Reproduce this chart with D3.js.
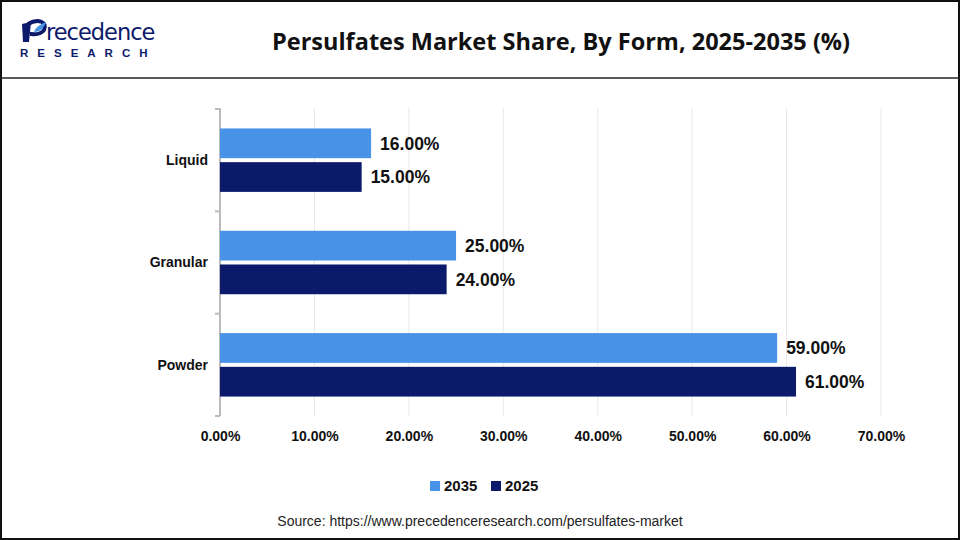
<!DOCTYPE html>
<html>
<head>
<meta charset="utf-8">
<script src="https://cdn.jsdelivr.net/npm/d3@7"></script>
<style>
  body { margin: 0; background: #fff; }
  svg { display: block; font-family: "Liberation Sans", Arial, sans-serif; }
</style>
</head>
<body>
<div id="container"></div>
<script>
var categories = ["Liquid", "Granular", "Powder"];
var seriesNames = ["2035", "2025"];
var values2035 = [16, 25, 59];
var values2025 = [15, 24, 61];
var tickValues = [0, 10, 20, 30, 40, 50, 60, 70];

var width = 960, height = 540;
var colors = { "2035": "#4893e8", "2025": "#0b1a6a" };

var svg = d3.select("#container").append("svg")
    .attr("width", width)
    .attr("height", height);

// frame
svg.append("rect")
    .attr("x", 1).attr("y", 1)
    .attr("width", width - 2).attr("height", height - 2)
    .attr("fill", "#fff")
    .attr("stroke", "#111").attr("stroke-width", 2);

svg.append("line")
    .attr("x1", 0).attr("x2", width)
    .attr("y1", 78).attr("y2", 78)
    .attr("stroke", "#222").attr("stroke-width", 1.5);

// logo
var logo = svg.append("g").attr("transform", "translate(18,0)");
logo.append("path")
    .attr("d", "M4,24 L13,22 L11,42 L5,42 Z")
    .attr("fill", "#0b1a6a");
logo.append("path")
    .attr("d", "M10,24 C20,18 30,22 26,30 C22,36 14,34 12,34")
    .attr("fill", "none").attr("stroke", "#0b1a6a").attr("stroke-width", 4);
logo.append("path")
    .attr("d", "M16,32 C18,26 24,24 28,22 C26,28 22,32 16,32 Z")
    .attr("fill", "#4893e8");
logo.append("text")
    .attr("x", 28).attr("y", 40)
    .attr("font-size", 22.5)
    .attr("fill", "#0b1a6a")
    .attr("font-family", "'DejaVu Sans', sans-serif")
    .attr("letter-spacing", -1)
    .text("recedence");
logo.append("text")
    .attr("x", 2).attr("y", 57)
    .attr("font-size", 11.5)
    .attr("font-weight", "bold")
    .attr("fill", "#0b1a6a")
    .attr("letter-spacing", 9)
    .text("RESEARCH");

// title
svg.append("text")
    .attr("x", 561).attr("y", 50)
    .attr("text-anchor", "middle")
    .attr("font-size", 23.5)
    .attr("font-weight", "bold")
    .attr("font-family", "'Open Sans', sans-serif")
    .attr("fill", "#111")
    .text("Persulfates Market Share, By Form, 2025-2035 (%)");

var margin = { left: 220, top: 108 };
var plotH = 307;

var x = d3.scaleLinear().domain([0, 70]).range([0, 661]);
var y = d3.scaleBand().domain(categories).range([0, plotH]).paddingInner(0.38).paddingOuter(0.19);
var ySub = d3.scaleBand().domain(seriesNames).range([0, y.bandwidth()]).paddingInner(0.118);

var g = svg.append("g").attr("transform", "translate(" + margin.left + "," + (margin.top + 1) + ")");

// gridlines
g.selectAll(".grid")
    .data(tickValues.slice(1))
    .enter().append("line")
    .attr("x1", function(d) { return x(d); })
    .attr("x2", function(d) { return x(d); })
    .attr("y1", -1).attr("y2", plotH)
    .attr("stroke", "#e8e8e8").attr("stroke-width", 1);

// x axis labels
var xAxis = d3.axisBottom(x)
    .tickValues(tickValues)
    .tickSize(0)
    .tickPadding(15)
    .tickFormat(function(d) { return d.toFixed(2) + "%"; });
var xg = g.append("g").attr("transform", "translate(0," + plotH + ")").call(xAxis);
xg.select(".domain").remove();
xg.selectAll("text")
    .attr("font-size", 14).attr("font-weight", "bold").attr("fill", "#111")
    .attr("font-family", "'Liberation Sans', Arial, sans-serif");

// y axis
g.append("line")
    .attr("x1", 0).attr("x2", 0).attr("y1", -1).attr("y2", plotH)
    .attr("stroke", "#bbb").attr("stroke-width", 2);
var bounds = [0, 1, 2, 3].map(function(i) { return i * plotH / 3; });
g.selectAll(".ytick")
    .data(bounds)
    .enter().append("line")
    .attr("x1", -5).attr("x2", 0)
    .attr("y1", function(d) { return d; }).attr("y2", function(d) { return d; })
    .attr("stroke", "#bbb").attr("stroke-width", 2);

g.selectAll(".ylabel")
    .data(categories)
    .enter().append("text")
    .attr("x", -12)
    .attr("y", function(d) { return y(d) + y.bandwidth() / 2; })
    .attr("dy", "0.35em")
    .attr("text-anchor", "end")
    .attr("font-size", 14).attr("font-weight", "bold").attr("fill", "#111")
    .text(function(d) { return d; });

// bars
var rows = [];
categories.forEach(function(c, i) {
  rows.push({ cat: c, series: "2035", value: values2035[i] });
  rows.push({ cat: c, series: "2025", value: values2025[i] });
});

g.selectAll(".bar")
    .data(rows)
    .enter().append("rect")
    .attr("x", 0)
    .attr("y", function(d) { return y(d.cat) + ySub(d.series); })
    .attr("width", function(d) { return x(d.value); })
    .attr("height", ySub.bandwidth())
    .attr("fill", function(d) { return colors[d.series]; });

g.selectAll(".val")
    .data(rows)
    .enter().append("text")
    .attr("x", function(d) { return x(d.value) + 9; })
    .attr("y", function(d) { return y(d.cat) + ySub(d.series) + ySub.bandwidth() / 2; })
    .attr("dy", "0.36em")
    .attr("font-size", 17.5).attr("font-weight", "bold").attr("fill", "#111")
    .text(function(d) { return d.value.toFixed(2) + "%"; });

// legend
var legend = svg.append("g").attr("transform", "translate(430,486)");
var lx = [0, 61];
seriesNames.forEach(function(s, i) {
  legend.append("rect")
      .attr("x", lx[i]).attr("y", -5)
      .attr("width", 10).attr("height", 10)
      .attr("fill", colors[s]);
  legend.append("text")
      .attr("x", lx[i] + 14).attr("y", 0)
      .attr("dy", "0.36em")
      .attr("font-size", 15).attr("font-weight", "bold").attr("fill", "#111")
      .text(s);
});

// source
svg.append("text")
    .attr("x", 480).attr("y", 526)
    .attr("text-anchor", "middle")
    .attr("font-size", 14).attr("fill", "#222")
    .text("Source: https://www.precedenceresearch.com/persulfates-market");
</script>
</body>
</html>
